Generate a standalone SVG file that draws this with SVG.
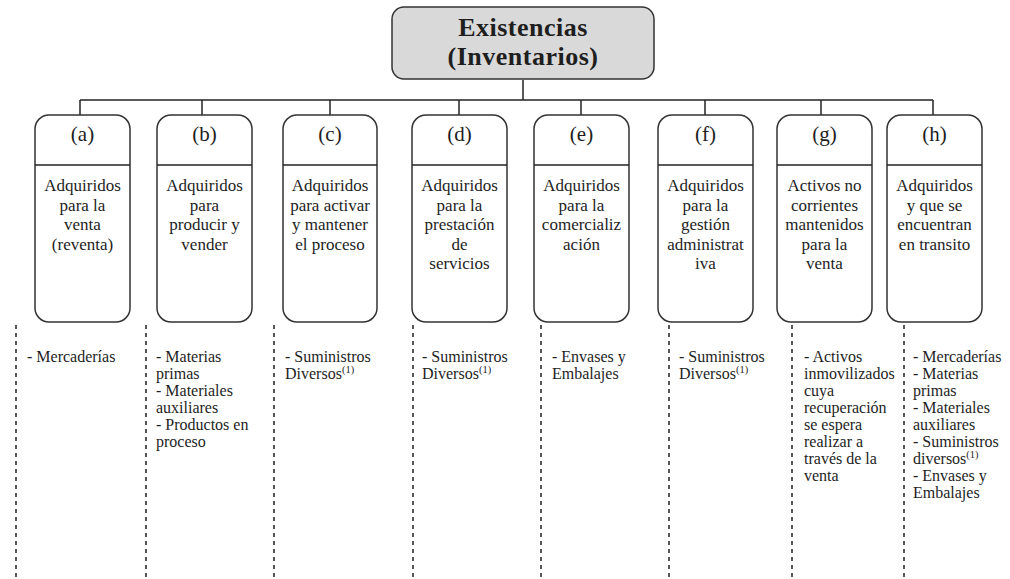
<svg xmlns="http://www.w3.org/2000/svg" width="1010" height="579" viewBox="0 0 1010 579">
<style>
.bg{fill:#ffffff}
.box{fill:#ffffff;stroke:#333333;stroke-width:1.5}
.root{fill:#d9d9d9;stroke:#333333;stroke-width:1.5}
.ln{stroke:#222222;stroke-width:1.5;fill:none}
.dash{stroke:#222222;stroke-width:1.5;stroke-dasharray:4 4;fill:none}
text{font-family:'Liberation Serif','DejaVu Serif',serif;fill:#1e1e1e}
.title{font-size:26px;font-weight:bold;text-anchor:middle;letter-spacing:0.5px}
.hd{font-size:21px;text-anchor:middle}
.bd{font-size:17px;text-anchor:middle}
.it{font-size:16px}
.sup{font-size:10.5px}
</style>
<rect class="bg" x="0" y="0" width="1010" height="579"/>
<g id="connectors">
<line class="ln" x1="523" y1="80" x2="523" y2="100"/>
<line class="ln" x1="80" y1="100" x2="933" y2="100"/>
<line class="ln" x1="80" y1="100" x2="80" y2="115"/>
<line class="ln" x1="202" y1="100" x2="202" y2="115"/>
<line class="ln" x1="330" y1="100" x2="330" y2="115"/>
<line class="ln" x1="459" y1="100" x2="459" y2="115"/>
<line class="ln" x1="581" y1="100" x2="581" y2="115"/>
<line class="ln" x1="705" y1="100" x2="705" y2="115"/>
<line class="ln" x1="821" y1="100" x2="821" y2="115"/>
<line class="ln" x1="933" y1="100" x2="933" y2="115"/>
</g>
<g id="dividers">
<line class="dash" x1="16" y1="325" x2="16" y2="579"/>
<line class="dash" x1="146" y1="325" x2="146" y2="579"/>
<line class="dash" x1="274" y1="325" x2="274" y2="579"/>
<line class="dash" x1="413" y1="325" x2="413" y2="579"/>
<line class="dash" x1="541" y1="325" x2="541" y2="579"/>
<line class="dash" x1="669" y1="325" x2="669" y2="579"/>
<line class="dash" x1="792" y1="325" x2="792" y2="579"/>
<line class="dash" x1="904" y1="325" x2="904" y2="579"/>
</g>
<g id="root">
<rect class="root" x="392" y="7" width="262" height="72" rx="12"/>
<text class="title" font-family="Liberation Serif, serif" x="523" y="36">Existencias</text>
<text class="title" font-family="Liberation Serif, serif" x="523" y="65">(Inventarios)</text>
</g>
<g id="node-a">
<rect class="box" x="35" y="115" width="95" height="207" rx="14"/>
<line class="ln" x1="35" y1="165" x2="130" y2="165"/>
<text class="hd" x="82.5" y="141">(a)</text>
<text class="bd"><tspan x="82.5" y="191">Adquiridos</tspan><tspan x="82.5" y="210.5">para la</tspan><tspan x="82.5" y="230">venta</tspan><tspan x="82.5" y="249.5">(reventa)</tspan></text>
<text class="it"><tspan x="27" y="362">- Mercaderías</tspan></text>
</g>
<g id="node-b">
<rect class="box" x="157" y="115" width="95" height="207" rx="14"/>
<line class="ln" x1="157" y1="165" x2="252" y2="165"/>
<text class="hd" x="204.5" y="141">(b)</text>
<text class="bd"><tspan x="204.5" y="191">Adquiridos</tspan><tspan x="204.5" y="210.5">para</tspan><tspan x="204.5" y="230">producir y</tspan><tspan x="204.5" y="249.5">vender</tspan></text>
<text class="it"><tspan x="156" y="362">- Materias</tspan><tspan x="156" y="379">primas</tspan><tspan x="156" y="396">- Materiales</tspan><tspan x="156" y="413">auxiliares</tspan><tspan x="156" y="430">- Productos en</tspan><tspan x="156" y="447">proceso</tspan></text>
</g>
<g id="node-c">
<rect class="box" x="283" y="115" width="94" height="207" rx="14"/>
<line class="ln" x1="283" y1="165" x2="377" y2="165"/>
<text class="hd" x="330" y="141">(c)</text>
<text class="bd"><tspan x="330" y="191">Adquiridos</tspan><tspan x="330" y="210.5">para activar</tspan><tspan x="330" y="230">y mantener</tspan><tspan x="330" y="249.5">el proceso</tspan></text>
<text class="it"><tspan x="285" y="362">- Suministros</tspan><tspan x="285" y="379">Diversos</tspan><tspan class="sup" dy="-6">(1)</tspan></text>
</g>
<g id="node-d">
<rect class="box" x="412" y="115" width="95" height="207" rx="14"/>
<line class="ln" x1="412" y1="165" x2="507" y2="165"/>
<text class="hd" x="459.5" y="141">(d)</text>
<text class="bd"><tspan x="459.5" y="191">Adquiridos</tspan><tspan x="459.5" y="210.5">para la</tspan><tspan x="459.5" y="230">prestación</tspan><tspan x="459.5" y="249.5">de</tspan><tspan x="459.5" y="269">servicios</tspan></text>
<text class="it"><tspan x="422" y="362">- Suministros</tspan><tspan x="422" y="379">Diversos</tspan><tspan class="sup" dy="-6">(1)</tspan></text>
</g>
<g id="node-e">
<rect class="box" x="534" y="115" width="95" height="207" rx="14"/>
<line class="ln" x1="534" y1="165" x2="629" y2="165"/>
<text class="hd" x="581.5" y="141">(e)</text>
<text class="bd"><tspan x="581.5" y="191">Adquiridos</tspan><tspan x="581.5" y="210.5">para la</tspan><tspan x="581.5" y="230">comercializ</tspan><tspan x="581.5" y="249.5">ación</tspan></text>
<text class="it"><tspan x="552" y="362">- Envases y</tspan><tspan x="552" y="379">Embalajes</tspan></text>
</g>
<g id="node-f">
<rect class="box" x="658" y="115" width="95" height="207" rx="14"/>
<line class="ln" x1="658" y1="165" x2="753" y2="165"/>
<text class="hd" x="705.5" y="141">(f)</text>
<text class="bd"><tspan x="705.5" y="191">Adquiridos</tspan><tspan x="705.5" y="210.5">para la</tspan><tspan x="705.5" y="230">gestión</tspan><tspan x="705.5" y="249.5">administrat</tspan><tspan x="705.5" y="269">iva</tspan></text>
<text class="it"><tspan x="679" y="362">- Suministros</tspan><tspan x="679" y="379">Diversos</tspan><tspan class="sup" dy="-6">(1)</tspan></text>
</g>
<g id="node-g">
<rect class="box" x="777" y="115" width="95" height="207" rx="14"/>
<line class="ln" x1="777" y1="165" x2="872" y2="165"/>
<text class="hd" x="824.5" y="141">(g)</text>
<text class="bd"><tspan x="824.5" y="191">Activos no</tspan><tspan x="824.5" y="210.5">corrientes</tspan><tspan x="824.5" y="230">mantenidos</tspan><tspan x="824.5" y="249.5">para la</tspan><tspan x="824.5" y="269">venta</tspan></text>
<text class="it"><tspan x="804" y="362">- Activos</tspan><tspan x="804" y="379">inmovilizados</tspan><tspan x="804" y="396">cuya</tspan><tspan x="804" y="413">recuperación</tspan><tspan x="804" y="430">se espera</tspan><tspan x="804" y="447">realizar a</tspan><tspan x="804" y="464">través de la</tspan><tspan x="804" y="481">venta</tspan></text>
</g>
<g id="node-h">
<rect class="box" x="887" y="115" width="95" height="207" rx="14"/>
<line class="ln" x1="887" y1="165" x2="982" y2="165"/>
<text class="hd" x="934.5" y="141">(h)</text>
<text class="bd"><tspan x="934.5" y="191">Adquiridos</tspan><tspan x="934.5" y="210.5">y que se</tspan><tspan x="934.5" y="230">encuentran</tspan><tspan x="934.5" y="249.5">en transito</tspan></text>
<text class="it"><tspan x="913" y="362">- Mercaderías</tspan><tspan x="913" y="379">- Materias</tspan><tspan x="913" y="396">primas</tspan><tspan x="913" y="413">- Materiales</tspan><tspan x="913" y="430">auxiliares</tspan><tspan x="913" y="447">- Suministros</tspan><tspan x="913" y="464">diversos</tspan><tspan class="sup" dy="-6">(1)</tspan><tspan x="913" y="481">- Envases y</tspan><tspan x="913" y="498">Embalajes</tspan></text>
</g>
</svg>
